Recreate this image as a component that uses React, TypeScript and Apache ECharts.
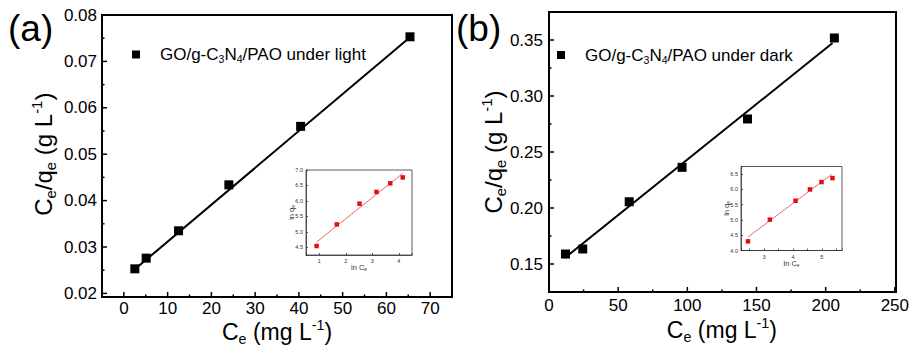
import React, { useEffect, useRef } from "react";
import * as echarts from "echarts";

// ---- data ----
const lightCe = [2.5, 5.1, 12.5, 24.0, 40.4, 65.4];
const lightRatio = [0.0253, 0.0276, 0.0335, 0.0434, 0.056, 0.0753];
const lightFitCe = [2.5, 65.4];
const lightFitRatio = [0.0252, 0.0752];

const darkCe = [11.9, 24.4, 58.0, 96.2, 143.5, 206.3];
const darkRatio = [0.1589, 0.1634, 0.2056, 0.2363, 0.2795, 0.3518];
const darkFitCe = [11.4, 205];
const darkFitRatio = [0.1554, 0.3473];

const lightLnCe = [0.9, 1.66, 2.52, 3.16, 3.68, 4.15];
const lightLnQe = [4.54, 5.24, 5.91, 6.29, 6.57, 6.76];
const lightLnFitCe = [0.9, 4.15];
const lightLnFitQe = [4.67, 6.89];

const darkLnCe = [2.44, 3.2, 4.09, 4.59, 4.99, 5.37];
const darkLnQe = [4.3, 5.01, 5.63, 6.0, 6.24, 6.37];
const darkLnFitCe = [2.44, 5.34];
const darkLnFitQe = [4.44, 6.49];

// tick values (major / minor) of the two main panels
const xTicksA = [0, 10, 20, 30, 40, 50, 60, 70];
const xMinorA = [5, 15, 25, 35, 45, 55, 65];
const yTicksA = [0.02, 0.03, 0.04, 0.05, 0.06, 0.07, 0.08];
const yMinorA = [0.025, 0.035, 0.045, 0.055, 0.065, 0.075];
const xTicksB = [0, 50, 100, 150, 200, 250];
const xMinorB = [25, 75, 125, 175, 225];
const yTicksB = [0.15, 0.2, 0.25, 0.3, 0.35];
const yMinorB = [0.175, 0.225, 0.275, 0.325];

const panelLabels = ["(a)", "(b)"];
const legendLight = "{n|GO/g-C}{s|3}{n|N}{s|4}{n|/PAO under light}";
const legendDark = "{n|GO/g-C}{s|3}{n|N}{s|4}{n|/PAO under dark}";
const xName = "{n|C}{s|e}{n| (mg L}{p|-1}{n|)}";
const yName = "{n|C}{s|e}{n|/q}{s|e}{n| (g L}{p|-1}{n|)}";
const insetXName = "{n|ln C}{s|e}";
const insetYName = "{n|ln q}{s|e}";

const FONT = '"Liberation Sans", Arial, Helvetica, sans-serif';

const zip = (a: number[], b: number[]) => a.map((v, i) => [v, b[i]]);

const stepLabel = (step: number, digits: number) => (v: number) => {
  const k = v / step;
  return Math.abs(k - Math.round(k)) < 1e-6 ? v.toFixed(digits) : "";
};

function rich(size: number, color = "#000") {
  const small = Math.round(size * 0.62 * 10) / 10;
  return {
    n: { fontSize: size, fontFamily: FONT, color, lineHeight: size * 1.2, verticalAlign: "middle" },
    s: { fontSize: small, fontFamily: FONT, color, lineHeight: small, verticalAlign: "bottom" },
    p: { fontSize: small, fontFamily: FONT, color, lineHeight: small, verticalAlign: "top" },
  };
}

const GRID_A = { left: 102, top: 15, width: 350, height: 282 };
const GRID_B = { left: 549, top: 12, width: 347, height: 280 };

function insetAxis(gridIndex: number, min: number, max: number, isY: boolean) {
  return {
    type: "value",
    gridIndex,
    min,
    max,
    splitNumber: 5,
    z: 8,
    position: isY ? "left" : "bottom",
    splitLine: { show: false },
    axisLine: { show: true, lineStyle: { color: "#333", width: 0.8 } },
    axisTick: { show: true, inside: true, length: 2, lineStyle: { color: "#333", width: 0.8 } },
    axisLabel: { color: "#333", fontSize: 5.5, fontFamily: FONT, margin: 3, formatter: isY ? stepLabel(0.5, 1) : stepLabel(1, 0) },
    nameLocation: "middle",
    nameGap: isY ? 10 : 8,
    nameMoveOverlap: false,
    name: isY ? insetYName : insetXName,
    nameTextStyle: { color: "#333", rich: rich(7.5, "#333") },
  };
}

function mainAxis(extra: any) {
  return {
    type: "value",
    splitLine: { show: false },
    axisLine: { show: false },
    axisTick: { show: false },
    nameLocation: "middle",
    nameMoveOverlap: false,
    ...extra,
  };
}

export default function App() {
  const ref = useRef<HTMLDivElement>(null);
  useEffect(() => {
    if (!ref.current) return;
    const chart = echarts.init(ref.current, undefined, { renderer: "svg" });
    const baseGraphic: any[] = [
      { id: "la", type: "text", x: 8, y: 28, z: 10, style: { text: panelLabels[0], fontSize: 37, fontFamily: FONT, fill: "#000", verticalAlign: "middle" } },
      { id: "lb", type: "text", x: 456, y: 28, z: 10, style: { text: panelLabels[1], fontSize: 37, fontFamily: FONT, fill: "#000", verticalAlign: "middle" } },
      { id: "sqa", type: "rect", z: 10, shape: { x: 132, y: 50.5, width: 8, height: 8 }, style: { fill: "#000" } },
      { id: "lga", type: "text", x: 160, y: 54.5, z: 10, style: { text: legendLight, rich: rich(17), verticalAlign: "middle", align: "left" } },
      { id: "sqb", type: "rect", z: 10, shape: { x: 557, y: 51, width: 8, height: 8 }, style: { fill: "#000" } },
      { id: "lgb", type: "text", x: 585, y: 55, z: 10, style: { text: legendDark, rich: rich(17), verticalAlign: "middle", align: "left" } },
      { id: "fa", type: "rect", z: 10, shape: { x: GRID_A.left, y: GRID_A.top, width: GRID_A.width, height: GRID_A.height }, style: { fill: "none", stroke: "#000", lineWidth: 2 } },
      { id: "fb", type: "rect", z: 10, shape: { x: GRID_B.left, y: GRID_B.top, width: GRID_B.width, height: GRID_B.height }, style: { fill: "none", stroke: "#000", lineWidth: 2 } },
    ];
    const option: any = {
      animation: false,
      grid: [
        { ...GRID_A },
        { ...GRID_B },
        { left: 306, top: 170, width: 106, height: 85, show: true, borderColor: "#333", borderWidth: 0.8, backgroundColor: "#fff", z: 5 },
        { left: 741, top: 166.5, width: 101, height: 84, show: true, borderColor: "#333", borderWidth: 0.8, backgroundColor: "#fff", z: 5 },
      ],
      xAxis: [
        { type: "value", gridIndex: 0, min: 0, max: 1, show: false },
        mainAxis({
          gridIndex: 0, position: "bottom", min: -5, max: 75, splitNumber: 8,
          axisLabel: { color: "#000", fontSize: 17, fontFamily: FONT, margin: 7, formatter: stepLabel(10, 0) },
          name: xName, nameGap: 25, nameTextStyle: { rich: rich(23) },
        }),
        mainAxis({
          gridIndex: 1, position: "bottom", min: 0, max: 250, interval: 50,
          axisLabel: { color: "#000", fontSize: 17, fontFamily: FONT, margin: 5 },
          name: xName, nameGap: 24, nameTextStyle: { rich: rich(23) },
        }),
        insetAxis(2, 0.5, 4.5, false),
        insetAxis(3, 2.2, 5.7, false),
      ],
      yAxis: [
        mainAxis({
          gridIndex: 0, position: "left", min: 0.02, max: 0.08, interval: 0.01,
          axisLabel: { color: "#000", fontSize: 17, fontFamily: FONT, margin: 5, formatter: (v: number) => v.toFixed(2) },
          name: yName, nameGap: 44, nameTextStyle: { rich: rich(24) },
        }),
        mainAxis({
          gridIndex: 1, position: "left", min: 0.125, max: 0.375, splitNumber: 5,
          axisLabel: { color: "#000", fontSize: 17, fontFamily: FONT, margin: 6, formatter: stepLabel(0.05, 2) },
          name: yName, nameGap: 41, nameTextStyle: { rich: rich(24) },
        }),
        insetAxis(2, 4.25, 7.0, true),
        insetAxis(3, 4.0, 6.75, true),
      ],
      series: [
        { type: "line", xAxisIndex: 1, yAxisIndex: 0, data: zip(lightFitCe, lightFitRatio), symbol: "none", lineStyle: { color: "#000", width: 2 }, z: 2 },
        { type: "scatter", xAxisIndex: 1, yAxisIndex: 0, data: zip(lightCe, lightRatio), symbol: "rect", symbolSize: 9, itemStyle: { color: "#000", opacity: 1 }, z: 3 },
        { type: "line", xAxisIndex: 2, yAxisIndex: 1, data: zip(darkFitCe, darkFitRatio), symbol: "none", lineStyle: { color: "#000", width: 2 }, z: 2 },
        { type: "scatter", xAxisIndex: 2, yAxisIndex: 1, data: zip(darkCe, darkRatio), symbol: "rect", symbolSize: 9, itemStyle: { color: "#000", opacity: 1 }, z: 3 },
        { type: "line", xAxisIndex: 3, yAxisIndex: 2, data: zip(lightLnFitCe, lightLnFitQe), symbol: "none", lineStyle: { color: "#e8555a", width: 0.9 }, z: 6 },
        { type: "scatter", xAxisIndex: 3, yAxisIndex: 2, data: zip(lightLnCe, lightLnQe), symbol: "rect", symbolSize: 4.5, itemStyle: { color: "#e01010", opacity: 1 }, z: 7 },
        { type: "line", xAxisIndex: 4, yAxisIndex: 3, data: zip(darkLnFitCe, darkLnFitQe), symbol: "none", lineStyle: { color: "#e8555a", width: 0.9 }, z: 6 },
        { type: "scatter", xAxisIndex: 4, yAxisIndex: 3, data: zip(darkLnCe, darkLnQe), symbol: "rect", symbolSize: 4.5, itemStyle: { color: "#e01010", opacity: 1 }, z: 7 },
      ],
      graphic: baseGraphic,
    };
    chart.setOption(option);

    // tick marks placed through the axes' own scales
    try {
      const ticks: any[] = [];
      const xTick = (axis: number, vals: number[], bottom: number, len: number, tag: string) => {
        vals.forEach((v, i) => {
          const px = chart.convertToPixel({ xAxisIndex: axis } as any, v) as any as number;
          if (typeof px === "number" && isFinite(px)) {
            ticks.push({ id: tag + i, type: "line", z: 10, shape: { x1: px, y1: bottom, x2: px, y2: bottom - len }, style: { stroke: "#000", lineWidth: 1.5 } });
          }
        });
      };
      const yTick = (axis: number, vals: number[], left: number, len: number, tag: string) => {
        vals.forEach((v, i) => {
          const py = chart.convertToPixel({ yAxisIndex: axis } as any, v) as any as number;
          if (typeof py === "number" && isFinite(py)) {
            ticks.push({ id: tag + i, type: "line", z: 10, shape: { x1: left, y1: py, x2: left + len, y2: py }, style: { stroke: "#000", lineWidth: 1.5 } });
          }
        });
      };
      const bA = GRID_A.top + GRID_A.height;
      const bB = GRID_B.top + GRID_B.height;
      xTick(1, xTicksA, bA, 5, "xa");
      xTick(1, xMinorA, bA, 2.5, "xam");
      yTick(0, yTicksA, GRID_A.left, 5, "ya");
      yTick(0, yMinorA, GRID_A.left, 2.5, "yam");
      xTick(2, xTicksB, bB, 5, "xb");
      xTick(2, xMinorB, bB, 2.5, "xbm");
      yTick(1, yTicksB, GRID_B.left, 5, "yb");
      yTick(1, yMinorB, GRID_B.left, 2.5, "ybm");
      chart.setOption({ graphic: baseGraphic.concat(ticks) });
    } catch (e) {
      // keep the chart as drawn if the tick overlay fails
    }
    return () => chart.dispose();
  }, []);
  return (
    <div ref={ref} style={{ position: "fixed", left: 0, top: 0, width: 912, height: 351, background: "#fff" }} />
  );
}
